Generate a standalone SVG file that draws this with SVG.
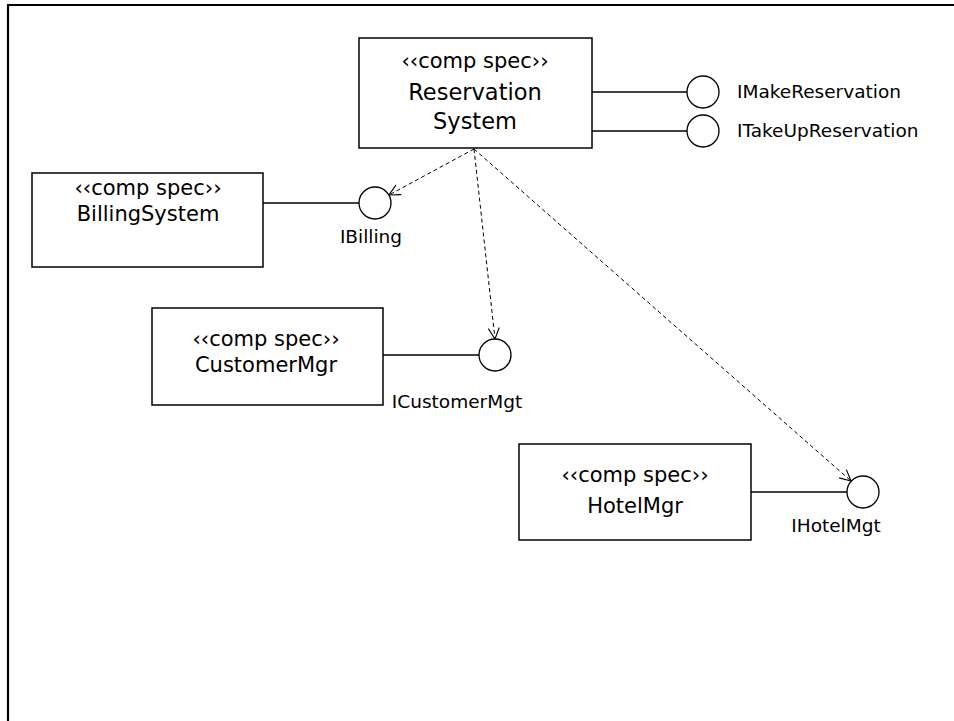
<svg xmlns="http://www.w3.org/2000/svg" width="954" height="721" viewBox="0 0 954 721">
  <defs>
    <marker id="open" markerUnits="userSpaceOnUse" markerWidth="14" markerHeight="14" viewBox="-12 -7 14 14" refX="0" refY="0" orient="auto">
      <path d="M-11,-5.5 L0,0 L-11,5.5" fill="none" stroke="#000" stroke-width="1.1"/>
    </marker>
  </defs>
  <style>
    .box { fill: #fff; stroke: #000; stroke-width: 1.5; }
    .iface { fill: #fff; stroke: #000; stroke-width: 1.3; }
    .wire { stroke: #000; stroke-width: 1.3; fill: none; }
    .dep { stroke: #000; stroke-width: 1; stroke-dasharray: 4 3; fill: none; marker-end: url(#open); }
    .name { font-family: "DejaVu Sans", "Open Sans", sans-serif; font-size: 21px; fill: #000; text-anchor: middle; }
    .big { font-size: 22.5px; }
    .lbl { font-family: "DejaVu Sans", "Open Sans", sans-serif; font-size: 18.5px; fill: #000; }
  </style>

  <rect width="954" height="721" fill="#fff"/>
  <!-- page frame: top and left edges -->
  <path d="M8,721 V5 H954" fill="none" stroke="#000" stroke-width="2.2"/>

  <g id="connectors">
    <line class="wire" x1="592" y1="92" x2="687" y2="92"/>
    <line class="wire" x1="592" y1="131" x2="687" y2="131"/>
    <line class="wire" x1="263" y1="203" x2="359" y2="203"/>
    <line class="wire" x1="383" y1="355" x2="479" y2="355"/>
    <line class="wire" x1="751" y1="492" x2="847" y2="492"/>
    <line class="dep" x1="474" y1="149" x2="389" y2="195"/>
    <line class="dep" x1="474" y1="149" x2="495" y2="339"/>
    <line class="dep" x1="474" y1="149" x2="851" y2="481"/>
  </g>

  <g id="reservation-system">
    <rect class="box" x="359" y="38" width="233" height="110"/>
    <text class="name" x="475" y="68">‹‹comp spec››</text>
    <text class="name big" x="475" y="100">Reservation</text>
    <text class="name big" x="475" y="129">System</text>
  </g>

  <g id="billing-system">
    <rect class="box" x="32" y="173" width="231" height="94"/>
    <text class="name" x="148" y="195">‹‹comp spec››</text>
    <text class="name" x="148" y="221">BillingSystem</text>
  </g>

  <g id="customer-mgr">
    <rect class="box" x="152" y="308" width="231" height="97"/>
    <text class="name" x="266" y="346">‹‹comp spec››</text>
    <text class="name" x="266" y="372">CustomerMgr</text>
  </g>

  <g id="hotel-mgr">
    <rect class="box" x="519" y="444" width="232" height="96"/>
    <text class="name" x="635" y="482">‹‹comp spec››</text>
    <text class="name" x="635" y="513">HotelMgr</text>
  </g>

  <g id="i-make-reservation">
    <circle class="iface" cx="703" cy="92" r="16"/>
    <text class="lbl" x="737" y="98">IMakeReservation</text>
  </g>

  <g id="i-take-up-reservation">
    <circle class="iface" cx="703" cy="131" r="16"/>
    <text class="lbl" x="737" y="137">ITakeUpReservation</text>
  </g>

  <g id="i-billing">
    <circle class="iface" cx="375" cy="203" r="16"/>
    <text class="lbl" x="371" y="243" text-anchor="middle">IBilling</text>
  </g>

  <g id="i-customer-mgt">
    <circle class="iface" cx="495" cy="355" r="16"/>
    <text class="lbl" x="457" y="408" text-anchor="middle">ICustomerMgt</text>
  </g>

  <g id="i-hotel-mgt">
    <circle class="iface" cx="863" cy="492" r="16"/>
    <text class="lbl" x="836" y="532" text-anchor="middle">IHotelMgt</text>
  </g>
</svg>
